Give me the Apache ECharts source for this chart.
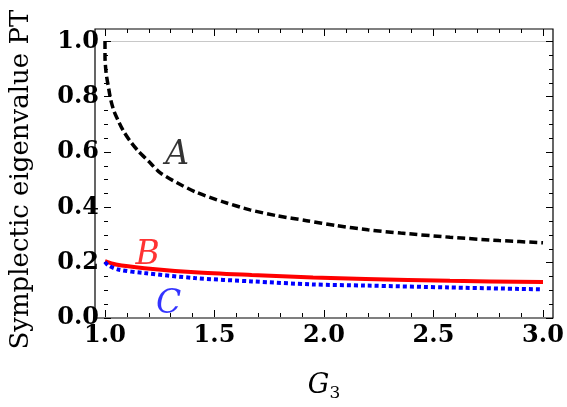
<!DOCTYPE html>
<html style="height: 100%">
<head>
<meta charset="UTF-8">
</head>
<body style="height: 100%; margin: 0; background: #fff">
<div id="container" style="width: 567px; height: 407px"></div>
<script type="text/javascript" src="https://cdn.jsdelivr.net/npm/echarts@6.0.0/dist/echarts.min.js"></script>
<script type="text/javascript">
// curve A (black dashed)
var xA = [1.0, 1.0, 1.005, 1.015, 1.026, 1.041, 1.061, 1.084, 1.114, 1.152, 1.198, 1.251, 1.327, 1.419, 1.54, 1.662, 1.784, 1.921, 2.058, 2.2, 2.35, 2.575, 2.8, 3.0];
var yA = [1.0, 0.944, 0.884, 0.836, 0.788, 0.746, 0.71, 0.674, 0.638, 0.601, 0.565, 0.523, 0.487, 0.451, 0.417, 0.388, 0.367, 0.349, 0.331, 0.316, 0.304, 0.289, 0.277, 0.269];
// curve B (red solid)
var xB = [1.0, 1.05, 1.18, 1.41, 1.67, 1.95, 2.19, 2.575, 3.0];
var yB = [0.202, 0.19, 0.177, 0.162, 0.152, 0.143, 0.138, 0.131, 0.127];
// curve C (blue dotted)
var xC = [1.0, 1.015, 1.06, 1.18, 1.41, 1.67, 1.95, 2.19, 2.575, 3.0];
var yC = [0.2, 0.187, 0.172, 0.159, 0.141, 0.129, 0.118, 0.114, 0.107, 0.100];
// curve labels
var tagNames = ['A', 'B', 'C'];
var tagX = [1.33, 1.195, 1.29];
var tagY = [0.585, 0.224, 0.045];
var tagColors = ['#000000', '#ff0000', '#0000ff'];

// only serif face that resolves in the sandbox
var serif = 'DejaVu Serif';

function pairs(xs, ys) {
    return xs.map(function (x, i) { return [x, ys[i]]; });
}

var myChart = echarts.init(document.getElementById('container'));
var option = {
    animation: false,
    grid: [
        // data + x ticks
        { left: 105, right: 24, top: 29, bottom: 89 },
        // y ticks
        { left: 95, right: 14, top: 41.3, bottom: 89 },
        // frame
        { left: 95, right: 14, top: 29, bottom: 89, show: true, borderColor: '#000', borderWidth: 1.2, backgroundColor: 'transparent' }
    ],
    xAxis: [
        {
            gridIndex: 0, type: 'value', position: 'bottom', min: 1, max: 3, interval: 0.5,
            axisLine: { show: false },
            axisTick: { show: true, inside: true, length: 7, lineStyle: { color: '#000' } },
            minorTick: { show: true, splitNumber: 5, length: 4, lineStyle: { color: '#000' } },
            splitLine: { show: false },
            axisLabel: {
                margin: 7, color: '#000', fontFamily: serif, fontWeight: 'bold', fontSize: 24,
                formatter: function (v) { return v.toFixed(1); }
            },
            name: '{g|G}{s|3}', nameLocation: 'middle', nameGap: 55,
            nameTextStyle: {
                rich: {
                    g: { fontFamily: serif, fontStyle: 'italic', fontSize: 27, color: '#000', verticalAlign: 'top' },
                    s: { fontFamily: serif, fontSize: 17, color: '#000', verticalAlign: 'top', padding: [13, 0, 0, 0] }
                }
            }
        },
        {
            gridIndex: 0, type: 'value', position: 'top', min: 1, max: 3, interval: 0.5,
            axisLine: { show: false },
            axisTick: { show: true, inside: true, length: 7, lineStyle: { color: '#000' } },
            minorTick: { show: true, splitNumber: 5, length: 4, lineStyle: { color: '#000' } },
            splitLine: { show: false },
            axisLabel: { show: false }
        },
        { gridIndex: 1, type: 'value', min: 0, max: 1, show: false },
        { gridIndex: 2, type: 'value', min: 0, max: 1, show: false }
    ],
    yAxis: [
        { gridIndex: 0, type: 'value', min: 0, max: 1.0433, show: false },
        {
            gridIndex: 1, type: 'value', position: 'left', min: 0, max: 1, interval: 0.2,
            axisLine: { show: false },
            axisTick: { show: true, inside: true, length: 7, lineStyle: { color: '#000' } },
            minorTick: { show: true, splitNumber: 4, length: 4, lineStyle: { color: '#000' } },
            splitLine: { show: true, lineStyle: { color: ['none', 'none', 'none', 'none', 'none', '#c8c8c8'], width: 1 } },
            axisLabel: {
                margin: 5, color: '#000', fontFamily: serif, fontWeight: 'bold', fontSize: 24,
                formatter: function (v) { return v.toFixed(1); }
            },
            name: 'Symplectic eigenvalue PT', nameLocation: 'middle', nameRotate: 90, nameGap: 70,
            nameTextStyle: { fontFamily: serif, fontSize: 26, color: '#000' }
        },
        {
            gridIndex: 1, type: 'value', position: 'right', min: 0, max: 1, interval: 0.2,
            axisLine: { show: false },
            axisTick: { show: true, inside: true, length: 7, lineStyle: { color: '#000' } },
            minorTick: { show: true, splitNumber: 4, length: 4, lineStyle: { color: '#000' } },
            splitLine: { show: false },
            axisLabel: { show: false }
        },
        { gridIndex: 2, type: 'value', min: 0, max: 1, show: false }
    ],
    series: [
        {
            name: 'A', type: 'line', xAxisIndex: 0, yAxisIndex: 0,
            data: pairs(xA, yA), showSymbol: false, smooth: 0.25,
            lineStyle: { color: '#000', width: 3.5, type: [8, 4] }
        },
        {
            name: 'B', type: 'line', xAxisIndex: 0, yAxisIndex: 0,
            data: pairs(xB, yB), showSymbol: false, smooth: 0.3,
            lineStyle: { color: '#ff0000', width: 4 }
        },
        {
            name: 'C', type: 'line', xAxisIndex: 0, yAxisIndex: 0,
            data: pairs(xC, yC), showSymbol: false, smooth: 0.3,
            lineStyle: { color: '#0000ff', width: 4, type: [4, 3] }
        },
        {
            name: 'tags', type: 'scatter', xAxisIndex: 0, yAxisIndex: 0, symbolSize: 0,
            data: tagNames.map(function (n, i) {
                return {
                    value: [tagX[i], tagY[i]], name: n,
                    label: {
                        show: true, position: 'inside', formatter: n, color: tagColors[i],
                        fontFamily: serif, fontStyle: 'italic', fontSize: 33
                    }
                };
            })
        }
    ]
};
myChart.setOption(option);
</script>
</body>
</html>
